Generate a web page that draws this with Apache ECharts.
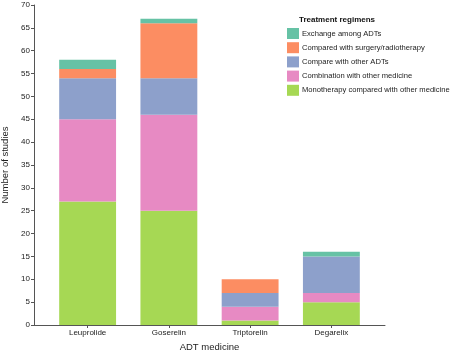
<!DOCTYPE html>
<html><head><meta charset="utf-8">
<script src="https://cdn.jsdelivr.net/npm/echarts@6/dist/echarts.min.js"></script>
<style>html,body{margin:0;padding:0;background:#fff}#c{width:450px;height:355px}</style>
</head><body><div id="c"></div>
<script>
const categories = ['Leuprolide', 'Goserelin', 'Triptorelin', 'Degarelix'];
const monotherapy = [27, 25, 1, 5];
const combination = [18, 21, 3, 2];
const compareADTs = [9, 8, 3, 8];
const surgery = [2, 12, 3, 0];
const exchange = [2, 1, 0, 1];
const yTicks = [0, 5, 10, 15, 20, 25, 30, 35, 40, 45, 50, 55, 60, 65, 70];

const seriesDefs = [
  {name: 'Monotherapy compared with other medicine', data: monotherapy, color: '#a6d854'},
  {name: 'Combination with other medicine', data: combination, color: '#e78ac3'},
  {name: 'Compare with other ADTs', data: compareADTs, color: '#8da0cb'},
  {name: 'Compared with surgery/radiotherapy', data: surgery, color: '#fc8d62'},
  {name: 'Exchange among ADTs', data: exchange, color: '#66c2a5'}
];
const font = 'Liberation Sans, Arial, sans-serif';
const chart = echarts.init(document.getElementById('c'), null, {renderer: 'canvas'});
chart.setOption({
  animation: false,
  backgroundColor: '#fff',
  textStyle: {fontFamily: font},
  title: {
    text: 'Treatment regimens', left: 299, top: 16, padding: 0,
    textStyle: {fontSize: 8, fontWeight: 'bold', color: '#111', fontFamily: font}
  },
  legend: {
    orient: 'vertical', left: 287, top: 28, padding: 0,
    itemWidth: 12, itemHeight: 11, itemGap: 3.2,
    icon: 'rect',
    data: ['Exchange among ADTs', 'Compared with surgery/radiotherapy', 'Compare with other ADTs', 'Combination with other medicine', 'Monotherapy compared with other medicine'],
    textStyle: {fontSize: 7.6, color: '#222', fontFamily: font, padding: [0, 0, 0, -2]}
  },
  grid: [
    {left: 47, right: 78, top: 5, bottom: 30, containLabel: false, outerBoundsMode: 'none'},
    {left: 34, right: 65, top: 5, bottom: 30, containLabel: false, outerBoundsMode: 'none'}
  ],
  xAxis: [{
    type: 'category', data: categories, gridIndex: 0,
    name: 'ADT medicine', nameLocation: 'middle', nameGap: 17,
    nameTextStyle: {fontSize: 9.5, color: '#222', fontFamily: font},
    splitLine: {show: false},
    axisLine: {show: false},
    axisTick: {show: true, length: 3, alignWithLabel: true, lineStyle: {color: '#555'}},
    axisLabel: {fontSize: 8, color: '#222', margin: 4, fontFamily: font}
  }, {
    type: 'value', gridIndex: 1, min: 0, max: 1,
    splitLine: {show: false},
    axisLine: {show: true, lineStyle: {color: '#555', width: 1}},
    axisTick: {show: false}, axisLabel: {show: false}
  }],
  yAxis: [{
    type: 'value', min: 0, max: 70, interval: 5, gridIndex: 0, offset: 13,
    name: 'Number of studies', nameLocation: 'middle', nameGap: 21,
    nameTextStyle: {fontSize: 9.5, color: '#222', fontFamily: font},
    splitLine: {show: false},
    axisLine: {show: true, lineStyle: {color: '#555', width: 1}},
    axisTick: {show: true, length: 3, lineStyle: {color: '#555'}},
    axisLabel: {fontSize: 8, color: '#222', margin: 4, fontFamily: font}
  }, {
    type: 'value', gridIndex: 1, min: 0, max: 1, show: false
  }],
  series: seriesDefs.map(s => ({
    name: s.name, type: 'bar', stack: 'total', barWidth: '70%',
    xAxisIndex: 0, yAxisIndex: 0,
    itemStyle: {color: s.color},
    data: s.data
  }))
});
</script></body></html>
